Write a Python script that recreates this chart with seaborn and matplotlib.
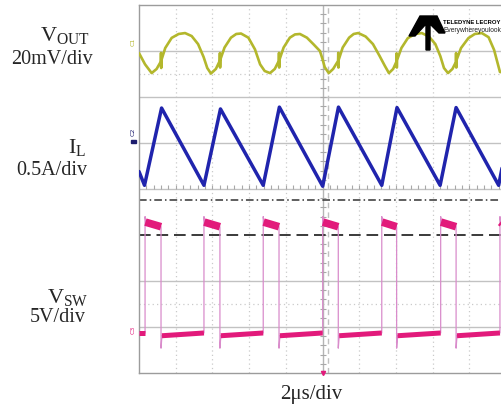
import numpy as np
import pandas as pd
import matplotlib
matplotlib.use("Agg")
import matplotlib.pyplot as plt
import seaborn as sns
from matplotlib.patches import Polygon

# ---------------- waveform data ----------------
# time axis: 10 divisions x 2 us
time_span_us = [0.0, 20.0]

# output ripple (mV, AC coupled)
vout_t_us = [0.00, 0.33, 0.69, 0.96, 1.19, 1.20, 1.21, 1.22, 1.43, 1.78, 2.16, 2.51, 2.87, 3.22, 3.52, 3.72,
             3.92, 4.19, 4.40, 4.41, 4.42, 4.43, 4.66, 5.01, 5.30, 5.56, 5.96, 6.32, 6.60, 6.85,
             7.14, 7.40, 7.62, 7.63, 7.64, 7.65, 7.88, 8.22, 8.50, 8.77, 9.15, 9.50, 9.86, 10.00, 10.12,
             10.34, 10.58, 10.85, 10.86, 10.87, 10.88, 11.10, 11.45, 11.70, 11.95, 12.35, 12.75, 13.10, 13.40,
             13.62, 13.85, 14.03, 14.04, 14.05, 14.06, 14.30, 14.65, 15.05, 15.41, 15.80, 16.15, 16.42, 16.62,
             16.84, 17.08, 17.27, 17.28, 17.29, 17.30, 17.55, 17.95, 18.30, 18.68, 19.05, 19.35, 19.67, 20.00]
vout_mv = [-0.9, -5.8, -9.6, -7.8, -4.6, -0.8, -7.4, -4.0, 1.3, 5.7, 7.4, 7.8, 6.5, 3.0, -2.6, -7.4,
           -9.8, -7.8, -4.3, -0.9, -7.2, -3.8, 1.5, 5.8, 7.4, 7.6, 5.8, 0.7, -5.8, -8.7,
           -9.6, -7.8, -4.3, -0.8, -7.2, -3.9, 1.5, 5.8, 7.2, 7.4, 5.8, 3.0, 0.0, -3.5, -7.0,
           -9.6, -7.8, -4.3, -0.8, -7.2, -3.9, 1.5, 5.8, 7.4, 7.8, 6.3, 3.0, -2.0, -6.5,
           -9.6, -7.8, -4.6, -1.0, -7.2, -4.0, 1.3, 5.6, 7.4, 7.8, 6.3, 3.0, -2.2, -7.4,
           -9.6, -7.8, -4.8, -0.9, -7.2, -4.0, 1.3, 5.6, 7.4, 7.8, 6.0, 0.5, -9.1, -9.6]

# inductor current (A, relative to channel offset)
il_t_us = [0.00, 0.30, 1.23, 3.54, 4.44, 6.77, 7.65, 10.01, 10.87, 13.23, 14.06, 16.41, 17.28, 19.60, 20.00]
il_a = [-0.31, -0.46, 0.38, -0.46, 0.37, -0.46, 0.39, -0.47, 0.39, -0.46, 0.385, -0.46, 0.385, -0.46, -0.05]

# switch node edges (us) and levels (V)
sw_rise_us = [0.33, 3.54, 6.77, 10.01, 13.23, 16.44, 19.67]
sw_fall_us = [1.20, 4.41, 7.63, 10.86, 14.04, 17.28]
sw_high_v = [12.0, 11.4, 10.9]   # overshoot, plateau start, plateau end
sw_low_v = [-2.3, -0.95, -0.65]  # undershoot, settle, plateau end

channel_names = [r"$\mathrm{V}_{\mathrm{OUT}}$", r"$\mathrm{I}_{\mathrm{L}}$", r"$\mathrm{V}_{\mathrm{SW}}$"]
channel_scales = ["20mV/div", "0.5A/div", "5V/div"]
time_scale = "2\u03bcs/div"

# vertical placement of each channel on the 8-division screen
vout_offset_div, vout_per_div = 7.0, 20.0
il_offset_div, il_per_div = 5.0, 0.5
sw_offset_div, sw_per_div = 1.0, 5.0

# ---------------- build traces ----------------
vout_df = pd.DataFrame({"t": vout_t_us,
                        "y": vout_offset_div + np.array(vout_mv) / vout_per_div})
il_df = pd.DataFrame({"t": il_t_us,
                      "y": il_offset_div + np.array(il_a) / il_per_div})

sw_t, sw_v = [0.0], [sw_low_v[2]]
high_segs, low_segs = [], []
for i, r in enumerate(sw_rise_us):
    sw_t += [r, r, r + 0.04]
    sw_v += [sw_low_v[2], sw_high_v[0], sw_high_v[1]]
    if i < len(sw_fall_us):
        f = sw_fall_us[i]
        sw_t += [f, f, f + 0.05]
        sw_v += [sw_high_v[2], sw_low_v[0], sw_low_v[1]]
        high_segs.append(([r + 0.02, f], [sw_high_v[1], sw_high_v[2]]))
        nxt = sw_rise_us[i + 1]
        low_segs.append(([f + 0.05, nxt], [sw_low_v[1], sw_low_v[2]]))
    else:
        sw_t += [time_span_us[1]]
        sw_v += [sw_high_v[2]]
        high_segs.append(([r + 0.02, time_span_us[1]], [sw_high_v[1], sw_high_v[2]]))
low_segs.insert(0, ([0.0, sw_rise_us[0]], [sw_low_v[2], sw_low_v[2]]))
sw_df = pd.DataFrame({"t": sw_t, "y": sw_offset_div + np.array(sw_v) / sw_per_div})

# ---------------- figure ----------------
sns.set_style("white")
plt.rcParams["font.family"] = ["Liberation Serif", "DejaVu Serif"]
plt.rcParams["mathtext.fontset"] = "custom"
plt.rcParams["mathtext.rm"] = "Liberation Serif"
plt.rcParams["mathtext.it"] = "Liberation Serif:italic"

W, H = 501, 412
fig = plt.figure(figsize=(W / 100, H / 100), dpi=100)
ax = fig.add_axes([139 / W, (H - 373) / H, 367 / W, 368 / H])
ax.set_xlim(*time_span_us)
ax.set_ylim(0, 8)

def fx(px):
    return px / W

def fy(py):
    return 1 - py / H

# graticule
grid_c = "#cacaca"
for x in np.arange(2, 20, 2):
    if x != 10:
        ax.axvline(x, color=grid_c, lw=0.9, ls=(0, (1, 2.5)), zorder=1)
for y in [7, 6, 5, 4, 2, 1]:
    ax.axhline(y, color="#c2c2c2", lw=1.0, zorder=1)
for y in [6.5, 1.5]:
    ax.axhline(y, color=grid_c, lw=0.9, ls=(0, (1, 2.5)), zorder=1)
ax.axvline(10, color="#b5b5b5", lw=1.0, zorder=1)
ax.axvline(10.3, color="#c0c0c0", lw=1.0, ls=(0, (4, 3)), zorder=1)
ax.plot(np.full(40, 10.0), np.arange(0, 8, 0.2), ls="none", marker="_", ms=5,
        color="#a8a8a8", mew=0.8, zorder=1)
ax.plot(np.arange(0.4, 20, 0.4), np.full(49, 4.04), ls="none", marker="|", ms=3,
        color="#a8a8a8", mew=0.8, zorder=1)
ax.axhline(3.76, color="#333333", lw=1.1, ls=(0, (5, 2, 1, 2)), zorder=2)
ax.axhline(3.0, color="#3a3a3a", lw=1.4, ls=(0, (6, 3)), zorder=2)

# traces
vout_c = "#b3b72c"
il_c = "#2024ad"
sw_c = "#e21a7b"
sw_edge_c = "#d98ccb"

sns.lineplot(data=vout_df, x="t", y="y", sort=False, estimator=None, color=vout_c,
             lw=1.9, ax=ax, zorder=4)
sns.lineplot(data=il_df, x="t", y="y", sort=False, estimator=None, color=il_c,
             lw=2.5, ax=ax, zorder=4)
sns.lineplot(data=sw_df, x="t", y="y", sort=False, estimator=None, color=sw_edge_c,
             lw=0.9, ax=ax, zorder=3)
for ts, vs in high_segs:
    ax.plot(ts, sw_offset_div + np.array(vs) / sw_per_div, color=sw_c, lw=5.5,
            solid_capstyle="butt", zorder=4)
for ts, vs in low_segs:
    ax.plot(ts, sw_offset_div + np.array(vs) / sw_per_div, color=sw_c, lw=3.6,
            solid_capstyle="butt", zorder=4)

ax.set_xticks([])
ax.set_yticks([])
ax.set_xlabel("")
ax.set_ylabel("")
for side in ["left", "top", "bottom"]:
    ax.spines[side].set_color("#9c9c9c")
    ax.spines[side].set_linewidth(1.0)
ax.spines["right"].set_visible(False)

# trigger marker
ax.plot([10], [0], marker="v", ms=3, color=sw_c, clip_on=False, zorder=5)

# channel markers on the left edge
for txt, py, col in [("C1", 42, vout_c), ("C2", 132, "#1c1c6e"), ("C3", 330, sw_c)]:
    fig.text(fx(133), fy(py), txt, rotation=90, fontsize=4.5, color=col,
             ha="center", va="center", family="DejaVu Sans")
fig.patches.append(Polygon([[fx(131), fy(140)], [fx(136), fy(140)], [fx(136), fy(143)],
                            [fx(131), fy(143)]], closed=True, transform=fig.transFigure,
                           color="#1c1c6e"))

# channel labels
label_pos = [(90, 36, 93, 60), (86, 148, 87, 171), (88, 298, 86, 318)]
for name, scale, (nx, ny, sx, sy) in zip(channel_names, channel_scales, label_pos):
    fig.text(fx(nx), fy(ny), name, fontsize=16, ha="right", va="center")
    fig.text(fx(sx), fy(sy), scale, fontsize=14.5, ha="right", va="center")
fig.text(fx(311), fy(395), time_scale, fontsize=15, ha="center", va="center")

# vendor logo
logo = [(409, 36), (420, 16), (437, 16), (445, 33), (439, 33), (430, 24), (430, 50),
        (426, 50), (426, 24), (415, 36)]
fig.patches.append(Polygon([[fx(px), fy(py)] for px, py in logo], closed=True,
                           transform=fig.transFigure, color="black", zorder=10))
fig.text(fx(443), fy(22), "TELEDYNE LECROY", fontsize=4.2, fontweight="bold",
         family=["Liberation Sans", "DejaVu Sans"], ha="left", va="center",
         color="black", zorder=10)
fig.text(fx(443), fy(31), "Everywhereyoulook", fontsize=4.8,
         family=["Liberation Sans", "DejaVu Sans"], ha="left", va="center",
         color="#222222", zorder=10)

fig.savefig("out.png", dpi=100)
